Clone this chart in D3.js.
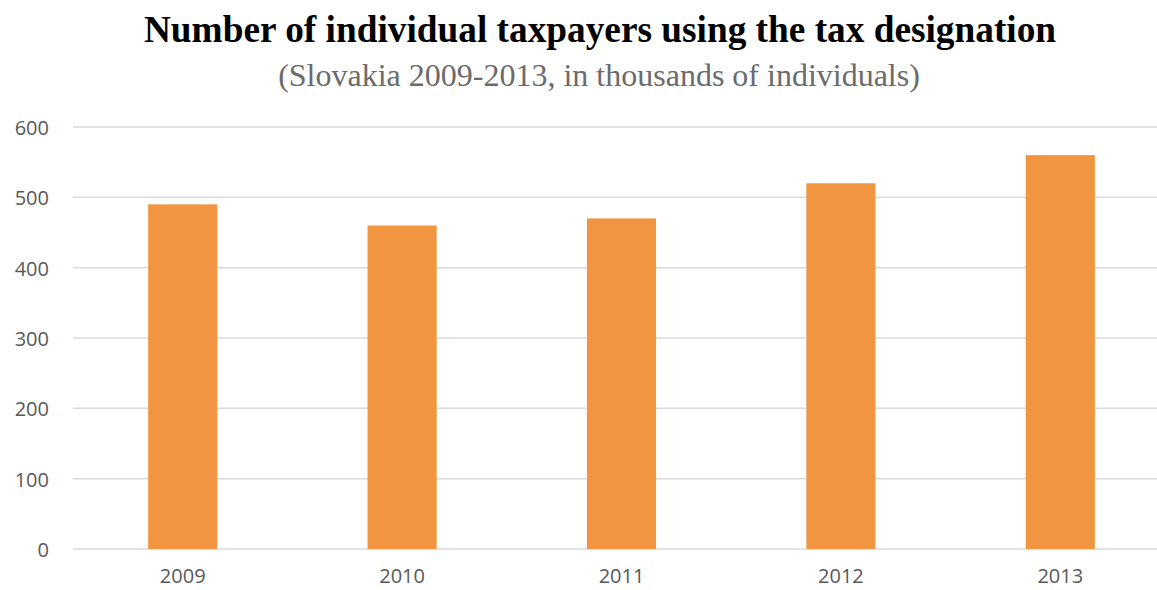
<!DOCTYPE html>
<html>
<head>
<meta charset="utf-8">
<script src="https://cdn.jsdelivr.net/npm/d3@7"></script>
<style>
  body { margin: 0; background: #fff; }
  .y-axis text, .x-axis text { font-family: "Open Sans", sans-serif; font-size: 20px; fill: #595959; }
</style>
</head>
<body>
<div id="chart"></div>
<script>
// data
const years = ["2009", "2010", "2011", "2012", "2013"];
const taxpayers = [490, 460, 470, 520, 560];
const yTicks = [0, 100, 200, 300, 400, 500, 600];

const width = 1157;
const height = 590;

const svg = d3.select("#chart")
  .append("svg")
    .attr("width", width)
    .attr("height", height);

const x = d3.scaleBand()
    .domain(years)
    .range([73, 1170])
    .paddingInner(0.685)
    .paddingOuter(0.3425);

const y = d3.scaleLinear()
    .domain([0, 600])
    .range([549, 127]);

// gridlines
svg.append("g")
  .selectAll("line")
  .data(yTicks)
  .join("line")
    .attr("x1", 73)
    .attr("x2", width)
    .attr("y1", d => y(d))
    .attr("y2", d => y(d))
    .attr("stroke", "#d9d9d9")
    .attr("stroke-width", 1.5);

// y axis
svg.append("g")
    .attr("class", "y-axis")
    .attr("transform", "translate(49, 1)")
    .call(d3.axisLeft(y).tickValues(yTicks).tickSize(0).tickPadding(0))
    .call(g => g.select(".domain").remove());

// x axis
svg.append("g")
    .attr("class", "x-axis")
    .attr("transform", "translate(0, 569)")
    .call(d3.axisBottom(x).tickSize(0).tickPadding(0))
    .call(g => g.select(".domain").remove());

// bars
svg.selectAll(".bar")
  .data(years.map((yr, i) => ({year: yr, value: taxpayers[i]})))
  .join("rect")
    .attr("class", "bar")
    .attr("x", d => x(d.year))
    .attr("y", d => y(d.value))
    .attr("width", x.bandwidth())
    .attr("height", d => y(0) - y(d.value))
    .attr("fill", "#f29541");

// titles
svg.append("text")
    .attr("x", 600)
    .attr("y", 42)
    .attr("text-anchor", "middle")
    .attr("font-family", "Liberation Serif, serif")
    .attr("font-weight", "bold")
    .attr("font-size", 37.3)
    .attr("fill", "#000")
    .text("Number of individual taxpayers using the tax designation");

svg.append("text")
    .attr("x", 599)
    .attr("y", 86)
    .attr("text-anchor", "middle")
    .attr("font-family", "Liberation Serif, serif")
    .attr("font-size", 32)
    .attr("fill", "#6b6b6b")
    .text("(Slovakia 2009-2013, in thousands of individuals)");
</script>
</body>
</html>
